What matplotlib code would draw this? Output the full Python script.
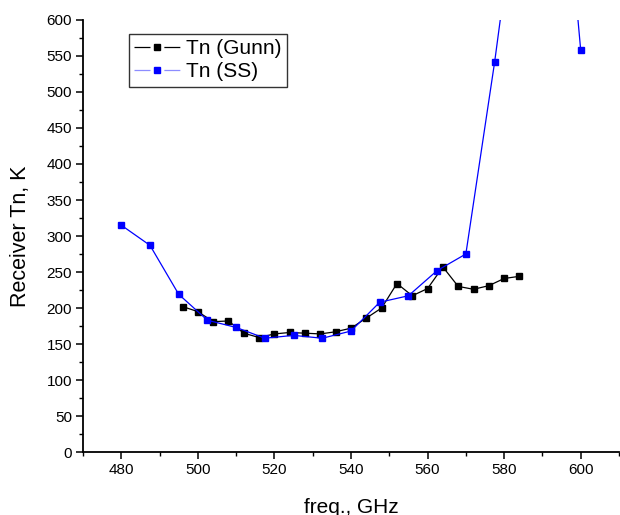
import matplotlib
matplotlib.use("Agg")
import matplotlib.pyplot as plt
from matplotlib.ticker import MultipleLocator
from matplotlib.lines import Line2D

plt.rcParams['font.family'] = ['Liberation Sans', 'DejaVu Sans']
plt.rcParams['lines.scale_dashes'] = False

gunn_freq = [496, 500, 504, 508, 512, 516, 520, 524, 528, 532, 536, 540,
             544, 548, 552, 556, 560, 564, 568, 572, 576, 580, 584]
gunn_tn = [202, 195, 181, 182, 165, 159, 164, 166, 165, 164, 167, 172,
           186, 200, 234, 217, 227, 257, 230, 226, 231, 241, 244]

ss_freq = [480, 487.5, 495, 502.5, 510, 517.5, 525, 532.5, 540, 547.5,
           555, 562.5, 570, 577.5, 585, 592.5, 600]
ss_tn = [315, 287, 219, 183, 173, 158, 162, 158, 168, 208,
         217, 252, 275, 541, 840, 1000, 558]

x_ticks = [480, 500, 520, 540, 560, 580, 600]
y_ticks = list(range(0, 601, 50))

fig = plt.figure(figsize=(6.2, 5.15), dpi=100)
ax = fig.add_axes([83/620, 63/515, 536/620, 432/515])

ax.plot(gunn_freq, gunn_tn, color='black', lw=0.9, marker='s', ms=5,
        mec='black', mfc='black', label='Tn (Gunn)')
ax.plot(ss_freq, ss_tn, color='#0000ff', lw=0.9, marker='s', ms=5,
        mec='#0000ff', mfc='#0000ff', label='Tn (SS)')

ax.set_xlim(470, 610)
ax.set_ylim(0, 600)
ax.set_xticks(x_ticks)
ax.set_yticks(y_ticks)
ax.xaxis.set_minor_locator(MultipleLocator(10))
ax.yaxis.set_minor_locator(MultipleLocator(25))

for s in ['top', 'right']:
    ax.spines[s].set_visible(False)
for s in ['left', 'bottom']:
    ax.spines[s].set_linewidth(1.3)

ax.tick_params(which='major', direction='out', length=5, width=1.1,
               labelsize=11, pad=3)
ax.tick_params(which='minor', direction='out', length=3, width=1.0)

ax.set_xlabel('freq., GHz', fontsize=15, labelpad=15)
ax.set_ylabel('Receiver Tn, K', fontsize=15.5, labelpad=11)

# legend proxies: line segments with a gap around the marker
fs = 15
hl = 2.2
L = hl * fs
seg = 11.5
gap = L - 2 * seg
h1 = Line2D([], [], color='black', lw=0.9, marker='s', ms=5,
            mec='black', mfc='black', dashes=(seg, gap))
h2 = Line2D([], [], color='#8c8cff', lw=0.9, marker='s', ms=5,
            mec='#0000ff', mfc='#0000ff', dashes=(seg, gap))
leg = ax.legend([h1, h2], ['Tn (Gunn)', 'Tn (SS)'], loc='upper left',
                bbox_to_anchor=((129 - 83) / 536, (452 - 34) / 432),
                fontsize=fs, frameon=True, fancybox=False, edgecolor='black',
                handlelength=hl, borderpad=0.25, labelspacing=0.2,
                handletextpad=0.3, borderaxespad=0, numpoints=1)
leg.get_frame().set_linewidth(1.0)

fig.savefig('out.png', dpi=100)
